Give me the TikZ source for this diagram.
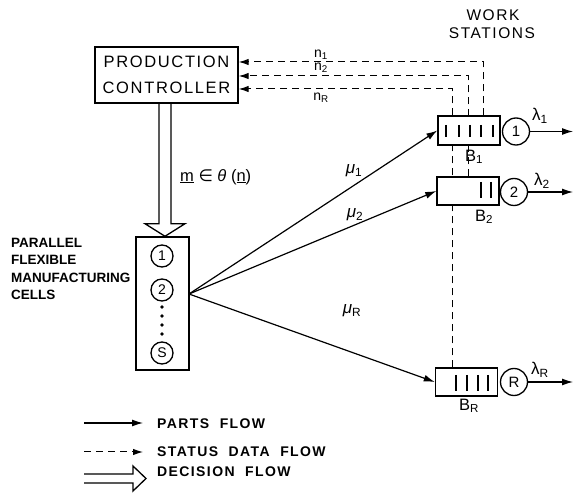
\documentclass[tikz,border=0pt]{standalone}
\usepackage{fontspec}
\setmainfont{Liberation Sans}
\newfontfamily\lett[LetterSpace=10]{Liberation Sans}
\newfontfamily\dvs{DejaVu Sans}
\usetikzlibrary{arrows.meta,calc,backgrounds}
\begin{document}
\begin{tikzpicture}[x=1pt,y=-1pt,
  box/.style={draw,line width=1.4pt,fill=white,inner sep=0pt},
  stn/.style={draw,circle,line width=1.3pt,fill=white,minimum size=27pt,inner sep=0pt,font=\fontsize{15}{15}\selectfont},
  cellc/.style={draw,circle,line width=1.3pt,minimum size=22pt,inner sep=0pt,font=\fontsize{14}{14}\selectfont},
  dotn/.style={circle,fill,inner sep=0pt,minimum size=3.6pt},
  parts/.style={line width=1.2pt,-{Latex[length=11pt,width=7pt]}},
  status/.style={line width=1pt,dash pattern=on 7pt off 5pt,-{Latex[length=10pt,width=6.5pt]}},
  dec/.style={line width=1.3pt,line join=miter},
  bar/.style={line width=1.2pt},
  lab/.style={inner sep=0pt},
  greek/.style={inner sep=0pt,font=\itshape\fontsize{17}{17}\selectfont},
  leg/.style={inner sep=0pt,anchor=west,font=\lett\bfseries\fontsize{14}{14}\selectfont},
]
\useasboundingbox (0,0) rectangle (574,497);

% production controller
\node[box,minimum width=143pt,minimum height=56pt,align=center,
      font=\lett\fontsize{16.5}{26}\selectfont] (ctrl) at (166.5,75) {PRODUCTION\\CONTROLLER};

% cells
\node[box,minimum width=53pt,minimum height=133pt] (cells) at (162.5,303.5) {};
\node[cellc] (k1) at (162,256) {1};
\node[cellc] (k2) at (162,290) {2};
\node[cellc] (kS) at (162,353) {S};
\foreach \y [count=\i] in {307,316,325,334} \node[dotn] (d\i) at (162,\y) {};
\node[lab,anchor=north west,align=left,font=\bfseries\fontsize{13.5}{17.3}\selectfont] (celllab) at (11,238)
  {PARALLEL\\FLEXIBLE\\MANUFACTURING\\CELLS};

% work stations
\node[lab,font=\lett\fontsize{15.5}{15}\selectfont] (work) at (493,15) {WORK};
\node[lab,font=\lett\fontsize{15.5}{15}\selectfont] (stations) at (492,33) {STATIONS};

\node[box,minimum width=62pt,minimum height=29pt] (B1) at (469,130.5) {};
\node[stn] (S1) at (516,131.5) {1};
\node[box,minimum width=62pt,minimum height=28pt] (B2) at (468,191) {};
\node[stn] (S2) at (514,192) {2};
\node[box,minimum width=62pt,minimum height=28pt] (BR) at (466.5,382) {};
\node[stn] (SR) at (514,382) {R};

\foreach \x in {446,459,470,481,493} \draw[bar] (\x,125) -- (\x,137);
\foreach \x in {481,491} \draw[bar] (\x,182) -- (\x,198);
\foreach \x in {456,467,478,488} \draw[bar] (\x,375) -- (\x,391);

\node[lab,font=\fontsize{16.5}{16}\selectfont] (lB1) at (474,157) {B\textsubscript{1}};
\node[lab,font=\fontsize{16.5}{16}\selectfont] (lB2) at (484,217) {B\textsubscript{2}};
\node[lab,font=\fontsize{16.5}{16}\selectfont] (lBR) at (469,406) {B\textsubscript{R}};

% outputs
\coordinate (o1) at (573,131.5);
\coordinate (o2) at (573,192);
\coordinate (oR) at (573,382);
\draw[parts] (S1) -- (o1);
\draw[parts] (S2) -- (o2);
\draw[parts] (SR) -- (oR);
\node[lab,font=\fontsize{17}{17}\selectfont] (lam1) at (540,116) {λ\textsubscript{1}};
\node[lab,font=\fontsize{17}{17}\selectfont] (lam2) at (542,181) {λ\textsubscript{2}};
\node[lab,font=\fontsize{17}{17}\selectfont] (lamR) at (540,370) {λ\textsubscript{R}};

% parts flow
\coordinate (src) at (189,294);
\draw[parts] (src) -- (B1.west);
\draw[parts] (src) -- (B2.west);
\draw[parts] (src) -- (BR.west);
\node[greek] (mu1) at (354,171) {μ\textsubscript{\upshape 1}};
\node[greek] (mu2) at (355,215) {μ\textsubscript{\upshape 2}};
\node[greek] (muR) at (352,311) {μ\textsubscript{\upshape R}};

% status data flow
\begin{scope}[on background layer]
\draw[status] ($(B1.north west)+(46,0)$) |- ($(ctrl.east)+(0,-13)$);
\draw[status] ($(B2.north west)+(32,0)$) |- ($(ctrl.east)+(0,1)$);
\draw[status] ($(BR.north west)+(18,0)$) |- ($(ctrl.east)+(0,14)$);
\end{scope}
\node[lab,font=\fontsize{14}{14}\selectfont] (n1) at (321,55) {n\textsubscript{1}};
\node[lab,font=\fontsize{14}{14}\selectfont] (n2) at (321,68) {n\textsubscript{2}};
\node[lab,font=\fontsize{14}{14}\selectfont] (nR) at (321,98) {n\textsubscript{R}};

% decision flow
\draw[dec] ($(ctrl.south)+(-7.5,0)$) -- ($(ctrl.south)+(-7.5,120)$) -- ($(ctrl.south)+(-21.5,120)$)
  -- ($(cells.north)+(2.5,0)$) -- ($(ctrl.south)+(18.5,120)$) -- ($(ctrl.south)+(4.5,120)$)
  -- ($(ctrl.south)+(4.5,0)$);
\node[lab,anchor=west,font=\fontsize{16.5}{16}\selectfont] (decl) at (180,177)
  {\underline{m} {\dvs ∈} {\itshape θ} (\underline{n})};

% legend
\coordinate (l1a) at (84,423); \coordinate (l1b) at (143,423);
\draw[parts] (l1a) -- (l1b);
\node[leg] (t1) at (157,424) {PARTS\ \ FLOW};
\coordinate (l2a) at (84,452); \coordinate (l2b) at (143,452);
\draw[status] (l2a) -- (l2b);
\node[leg] (t2) at (157,452) {STATUS\ \ DATA\ \ FLOW};
\coordinate (l3) at (84,478.5);
\draw[dec] ($(l3)+(0,-4.5)$) -- ++(49,0) -- ++(0,-8) -- ++(13,12.5) -- ++(-13,12.5) -- ++(0,-8) -- ++(-49,0);
\node[leg] (t3) at (157,472) {DECISION\ \ FLOW};
\end{tikzpicture}
\end{document}
